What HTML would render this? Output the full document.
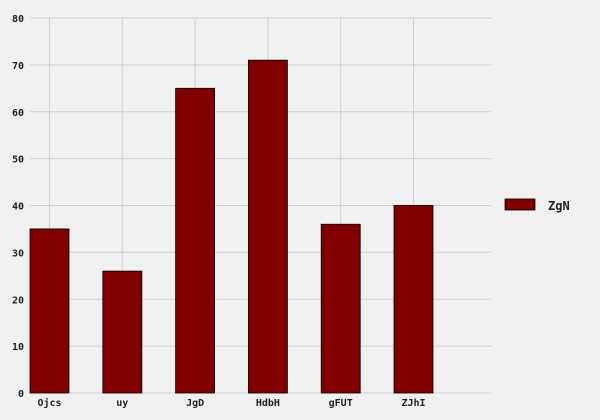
<!DOCTYPE html>
<html><head><meta charset="utf-8"><style>
html,body{margin:0;padding:0;background:#f0f0f0;}
svg{display:block;font-family:"DejaVu Sans Mono","Liberation Mono",monospace;font-weight:bold;}
</style></head><body>
<svg id="chart" width="600" height="420" xmlns="http://www.w3.org/2000/svg">
<rect width="600" height="420" fill="#f0f0f0"/>
<g id="grid"></g><g id="bars"></g><g id="axes"></g>
<g>
<rect x="505" y="199" width="30" height="11" fill="#800000" stroke="#000" stroke-width="0.8"/>
<text x="548" y="210" font-size="12" fill="#222">ZgN</text>
</g>
</svg>
<script>
const categories = ["Ojcs","uy","JgD","HdbH","gFUT","ZJhI"];
const values = [35,26,65,71,36,40];
const yTicks = [0,10,20,30,40,50,60,70,80];
const NS="http://www.w3.org/2000/svg";
const pLeft=30,pRight=491,pTop=18,pBottom=393;
const x0=49.5,step=72.8,barW=39;
function xPos(i){return x0+step*i;}
function yPos(v){return pBottom-(v/80)*(pBottom-pTop);}
function mk(tag,attrs,parent){const e=document.createElementNS(NS,tag);for(const k in attrs)e.setAttribute(k,attrs[k]);parent.appendChild(e);return e;}
const grid=document.getElementById('grid'),bars=document.getElementById('bars'),axes=document.getElementById('axes');
yTicks.forEach(t=>{
  const y=yPos(t);
  const l=mk('line',{x1:pLeft,x2:pRight,y1:y,y2:y,stroke:'#cfcfcf','stroke-width':1},grid);
  
  
  const tx=mk('text',{x:24,y:y+4,'font-size':10,'text-anchor':'end',fill:'#222'},axes);
  tx.textContent=t;
  
  
});
categories.forEach((c,i)=>{
  const x=xPos(i);
  const g=mk('line',{x1:x,x2:x,y1:pTop,y2:pBottom,stroke:'#cfcfcf','stroke-width':1},grid);
  
  
  const y=yPos(values[i]);
  const r=mk('rect',{x:x-barW/2,y:y,width:barW,height:pBottom-y,fill:'#800000',stroke:'#000','stroke-width':0.8},bars);
  
  
  const tx=mk('text',{x:x,y:406,'font-size':10,'text-anchor':'middle',fill:'#222'},axes);
  tx.textContent=c;
  
  
});
</script>
</body></html>
